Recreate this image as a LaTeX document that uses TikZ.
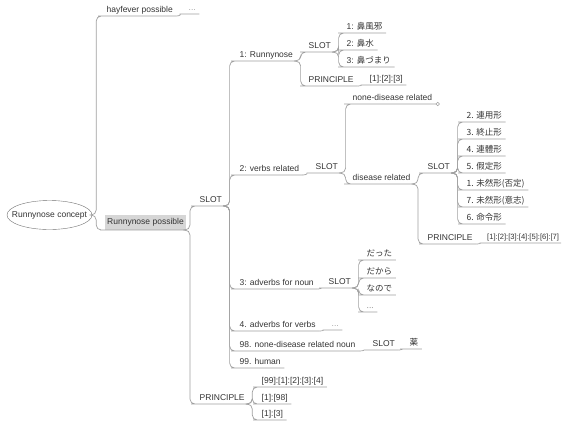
\documentclass[tikz,border=0pt]{standalone}
\usepackage{fontspec}
\setmainfont{Liberation Sans}
\newfontfamily\jp{Noto Sans CJK JP}
\usetikzlibrary{shapes.geometric}
\definecolor{txt}{HTML}{333333}
\definecolor{lnc}{HTML}{A0A0A0}
\definecolor{boxc}{HTML}{D6D6D6}

\begin{document}
\begin{tikzpicture}[x=1pt, y=-1pt, font=\fontsize{8.5}{10}\selectfont,
		t/.style = {anchor=south west, inner xsep=3.5pt, inner ysep=1.5pt, text height=6.5pt, text depth=2pt, text=txt},
		dots/.style = {text=lnc},
		root/.style = {draw=txt!70, ellipse, minimum width=85pt, minimum height=29pt, inner sep=0pt, text=txt},
		ln/.style = {draw=lnc, line width=0.7pt, rounded corners=5pt},
		elbow/.style = {to path={-- ++(4,0) |- (\tikztotarget)}},
		flat/.style = {out=0, in=180}]
			\useasboundingbox (0,0) rectangle (562,421);
			\node[root] (root) at (49.5,215) {\makebox[0pt]{Runnynose concept}};
			\node[t] (hay) at (103,16) {hayfever possible};
			\node[t, dots] (hayx) at (185,14) {...};
			\node[t, fill=boxc, inner xsep=2pt, inner ysep=3pt] (rp) at (105,230) {Runnynose possible};
			\node[t] (slot) at (196,206) {SLOT};
			\node[t] (prin) at (196,404) {PRINCIPLE};
			\node[t] (rn) at (236,61) {1: Runnynose};
			\node[t] (vr) at (236,175) {2: verbs related};
			\node[t] (an) at (236,289) {3: adverbs for noun};
			\node[t] (av) at (236,331) {4. adverbs for verbs};
			\node[t, dots] (avx) at (328,330) {...};
			\node[t] (nn) at (236,351) {98. none-disease related noun};
			\node[t] (nnslot) at (369,350) {SLOT};
			\node[t] (nnx) at (406,349) {\jp 薬};
			\node[t] (hu) at (236,368) {99. human};
			\node[t] (rnslot) at (305,52) {SLOT};
			\node[t] (rnprin) at (305,86) {PRINCIPLE};
			\node[t] (rnp) at (366,85) {[1]:[2]:[3]};
			\node[t] (vrslot) at (312,173) {SLOT};
			\node[t] (nd) at (349,104) {none-disease related};
			\node[circle, draw=lnc, fill=white, inner sep=0pt, minimum size=3.5pt, anchor=west] (ndx) at (nd.south east) {};
			\node[t] (dr) at (349,184) {disease related};
			\node[t] (drslot) at (424,173) {SLOT};
			\node[t] (drprin) at (424,244) {PRINCIPLE};
			\node[t, inner xsep=2pt, font=\fontsize{7.6}{9}\selectfont] (drp) at (485,243) {[1]:[2]:[3]:[4]:[5]:[6]:[7]};
			\node[t] (anslot) at (325,288) {SLOT};

			\draw[ln] (root.east) to[elbow] (hay.south west) -- (hay.south east);
			\draw[ln] (root.east) to[elbow] (rp.south west) -- (rp.south east);
			\foreach \a/\b/\e in {hay/hayx/flat, rp/slot/elbow, rp/prin/elbow, slot/rn/elbow, slot/vr/elbow, slot/an/elbow, slot/av/elbow, slot/nn/elbow, slot/hu/elbow, av/avx/flat, nn/nnslot/flat, nnslot/nnx/flat, rn/rnslot/elbow, rn/rnprin/elbow, rnprin/rnp/flat, vr/vrslot/flat, vrslot/nd/elbow, vrslot/dr/elbow, dr/drslot/elbow, dr/drprin/elbow, drprin/drp/flat, an/anslot/flat}
				\draw[ln] (\a.south east) to[\e] (\b.south west) -- (\b.south east);

			\foreach \i/\y/\s in {1/33/{1: {\jp 鼻風邪}}, 2/50/{2: {\jp 鼻水}}, 3/67/{3: {\jp 鼻づまり}}}{
				\node[t] (rnc\i) at (343,\y) {\s};
				\draw[ln] (rnslot.south east) to[elbow] (rnc\i.south west) -- (rnc\i.south east);
			}
			\foreach \i/\y/\s in {1/122/2. 連用形, 2/139/3. 終止形, 3/156/4. 連體形, 4/173/5. 假定形, 5/190/1. 未然形(否定), 6/207/7. 未然形(意志), 7/224/6. 命令形}{
				\node[t, font=\fontsize{8.5}{10}\jp] (frm\i) at (463,\y) {\s};
				\draw[ln] (drslot.south east) to[elbow] (frm\i.south west) -- (frm\i.south east);
			}
			\foreach \i/\y/\s/\c in {1/260/{だった}/txt, 2/278/{だから}/txt, 3/295/{なので}/txt, 4/312/{...}/lnc}{
				\node[t, text=\c, font=\fontsize{8.5}{10}\jp] (anc\i) at (363,\y) {\s};
				\draw[ln] (anslot.south east) to[elbow] (anc\i.south west) -- (anc\i.south east);
			}
			\foreach \i/\y/\s in {1/387/{[99]:[1]:[2]:[3]:[4]}, 2/404/{[1]:[98]}, 3/420/{[1]:[3]}}{
				\node[t] (prc\i) at (258,\y) {\s};
				\draw[ln] (prin.south east) to[elbow] (prc\i.south west) -- (prc\i.south east);
			}
\end{tikzpicture}
\end{document}
